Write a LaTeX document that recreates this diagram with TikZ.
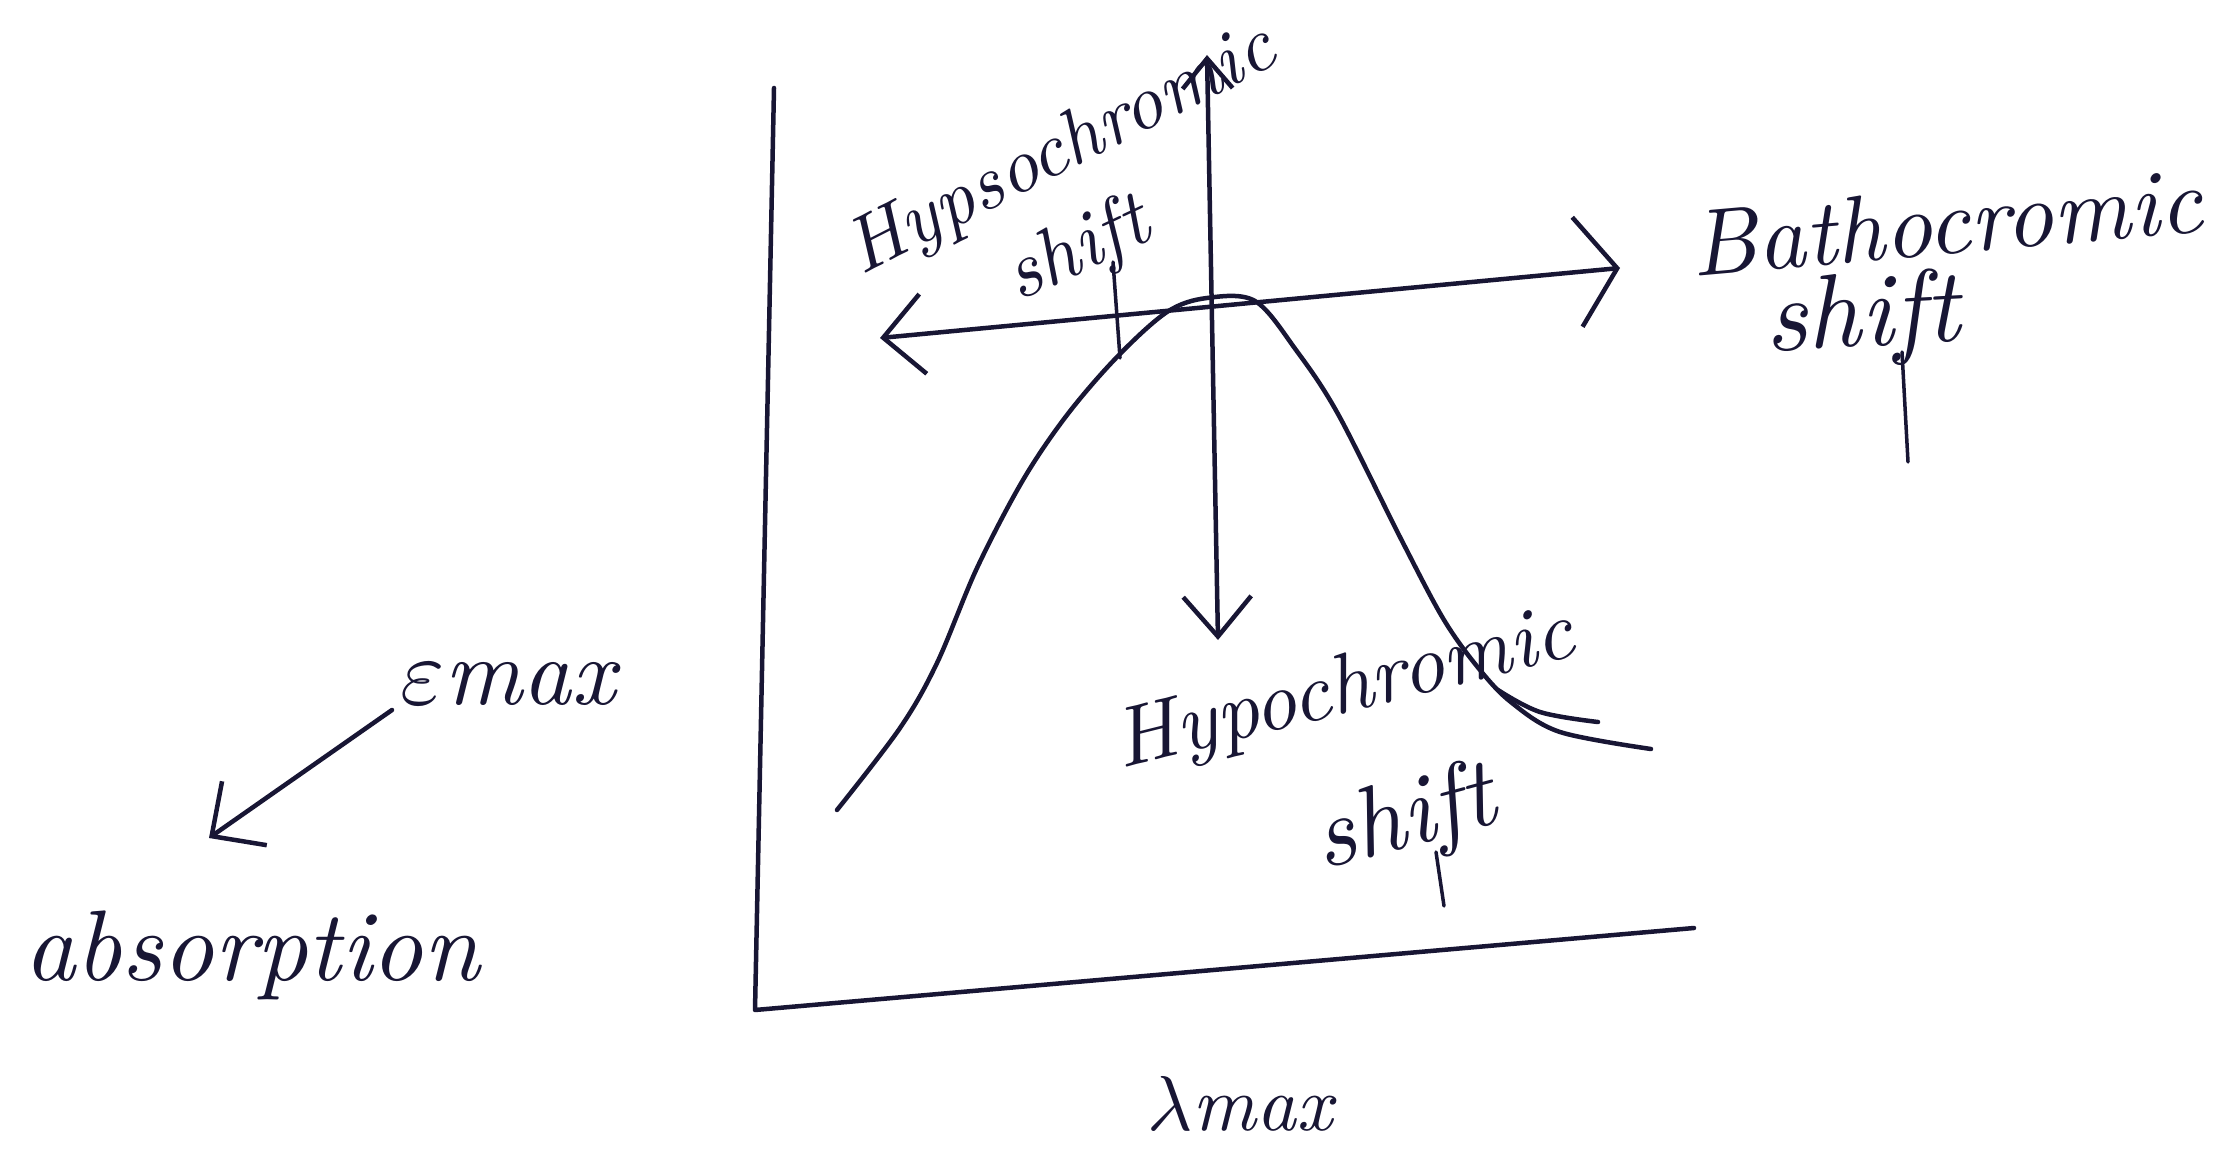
\documentclass[tikz,border=0pt]{standalone}
\usepackage{graphicx}
\usetikzlibrary{arrows.meta}
\definecolor{ink}{RGB}{24,22,52}
\tikzset{
  pen/.style={draw=ink, line width=4.5pt, line cap=round, line join=round},
  stroke/.style={draw=ink, line width=3.5pt, line cap=round},
  hand/.style={inner sep=0pt, text=ink},
}
\newcommand{\hw}[2]{\resizebox{#1}{!}{\itshape #2}}
\begin{document}
\begin{tikzpicture}[x=1pt,y=-1pt]
\useasboundingbox (0,0) rectangle (2214,1150);
\fill[white] (0,0) rectangle (2214,1150);

% axes
\coordinate (ytop) at (774,88);
\coordinate (origin) at (755,1010);
\coordinate (xend) at (1694,928);
\draw[pen] (ytop) -- (origin) -- (xend);

% absorption curve
\draw[pen] plot[smooth,tension=0.55] coordinates {(837,810) (900,728) (937,663) (977,568) (1023,480) (1067,415) (1117,357) (1167,312) (1207,298) (1255,301) (1296,350) (1338,414) (1401,539) (1444,620) (1480,670) (1512,703) (1560,732) (1651,749)};
\draw[pen] plot[smooth,tension=0.6] coordinates {(1498,690) (1540,712) (1598,722)};

% vertical double arrow (hypso / hypo)
\coordinate (vtop) at (1207,55);
\coordinate (vbot) at (1218,640);
\draw[pen, {Straight Barb[length=30pt,width=50pt]}-{Straight Barb[length=40pt,width=68pt]}] (vtop) -- (vbot);

% horizontal double arrow (hypsochromic <-> bathochromic)
\coordinate (hl) at (880,338);
\coordinate (hr) at (1620,268);
\draw[pen, {Straight Barb[length=40pt,width=80pt]}-{Straight Barb[length=40pt,width=110pt]}] (hl) -- (hr);

% labels
\node[hand, rotate=27] (hypso) at (1062,152) {\hw{470pt}{Hypsochromic}};
\node[hand, rotate=25] (hypsoshift) at (1078,252) {\hw{150pt}{shift}};
\node[hand, rotate=5] (batho) at (1946,222) {\hw{513pt}{Bathocromic}};
\node[hand, rotate=3] (bathoshift) at (1862,320) {\hw{195pt}{shift}};
\node[hand, rotate=14] (hypo) at (1345,692) {\hw{470pt}{Hypochromic}};
\node[hand, rotate=15] (hyposhift) at (1405,822) {\hw{185pt}{shift}};
\node[hand, anchor=west] (emax) at (400,684) {\hw{215pt}{$\varepsilon$max}};
\node[hand] (absorp) at (252,955) {\hw{455pt}{absorption}};
\node[hand] (lmax) at (1240,1104) {\hw{185pt}{$\lambda$max}};

% long tails of the handwritten f's
\draw[stroke] (1113,262) -- (1120,358);
\draw[stroke] (1902,352) -- (1908,462);
\draw[stroke] (1436,852) -- (1444,906);

% epsilon max arrow
\coordinate (etip) at (209,838);
\draw[pen, -{Straight Barb[length=40pt,width=78pt]}] (emax.west) ++(-8,26) coordinate (estart) -- (etip);
\end{tikzpicture}
\end{document}
